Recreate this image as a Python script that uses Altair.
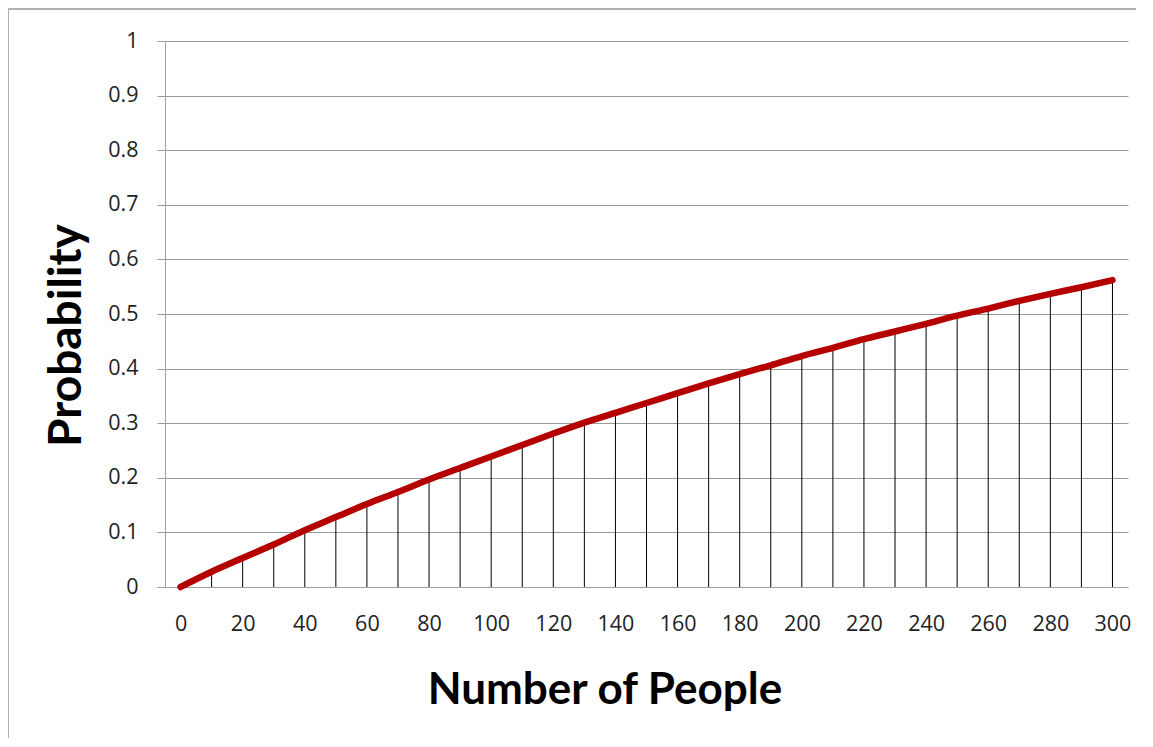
import altair as alt
import pandas as pd

people = [0, 10, 20, 30, 40, 50, 60, 70, 80, 90, 100, 110, 120, 130, 140, 150,
          160, 170, 180, 190, 200, 210, 220, 230, 240, 250, 260, 270, 280, 290, 300]
probability = [0.0, 0.028, 0.053, 0.078, 0.104, 0.128, 0.152, 0.174, 0.197, 0.218,
               0.239, 0.260, 0.281, 0.301, 0.319, 0.337, 0.355, 0.373, 0.390, 0.406,
               0.423, 0.438, 0.454, 0.468, 0.482, 0.497, 0.510, 0.524, 0.537, 0.549,
               0.562]
x_ticks = list(range(0, 301, 20))
y_ticks = [0, 0.1, 0.2, 0.3, 0.4, 0.5, 0.6, 0.7, 0.8, 0.9, 1.0]

df = pd.DataFrame({"people": people, "prob": probability})

TITLE_FONT = "Lato"
LABEL_FONT = "Open Sans"

x_enc = alt.X(
    "people:Q",
    scale=alt.Scale(domain=[-5, 305], nice=False, zero=False),
    axis=alt.Axis(
        values=x_ticks, title="Number of People", grid=False, ticks=False, tickSize=0,
        domainColor="#a0a0a0", labelFont=LABEL_FONT, labelFontSize=21.5,
        labelColor="#222222", labelBaseline="alphabetic", labelPadding=43,
        labelFlush=False,
        titleFont=TITLE_FONT, titleFontSize=44, titleFontWeight="bold",
        titleColor="#000000", titleX=439.5, titleY=116, titleBaseline="alphabetic",
        titleAlign="center",
    ),
)
y_enc = alt.Y(
    "prob:Q",
    scale=alt.Scale(domain=[0, 1], nice=False),
    axis=alt.Axis(
        values=y_ticks, format=".1~f", title="Probability",
        grid=True, gridColor="#9a9a9a", gridWidth=1,
        ticks=True, tickSize=8, tickColor="#9a9a9a", domainColor="#a0a0a0",
        labelFont=LABEL_FONT, labelFontSize=21.5, labelColor="#222222",
        labelPadding=19,
        titleFont=TITLE_FONT, titleFontSize=46, titleFontWeight="bold",
        titleColor="#000000", titleAngle=-90, titleX=-85, titleY=294,
        titleBaseline="alphabetic", titleAlign="center",
    ),
)

drops = alt.Chart(df).mark_rule(color="#000000", strokeWidth=1).encode(
    x=x_enc, y=y_enc, y2=alt.datum(0)
)
curve = alt.Chart(df).mark_line(
    color="#b50000", strokeWidth=6.5, strokeCap="round", interpolate="monotone"
).encode(x="people:Q", y="prob:Q")

border_left = alt.Chart(df).mark_rule(color="#b0b0b0", strokeWidth=1.5).encode(
    x=alt.value(-157), y=alt.value(-33), y2=alt.value(800)
)
border_top = alt.Chart(df).mark_rule(color="#b0b0b0", strokeWidth=1.5).encode(
    y=alt.value(-32.5), x=alt.value(-157), x2=alt.value(1100)
)

chart = alt.layer(drops, curve, border_left, border_top).properties(
    width=963,
    height=546,
    autosize=alt.AutoSizeParams(type="none"),
    padding={"left": 157, "top": 33, "right": 8, "bottom": 151},
    background="white",
).configure_view(stroke="transparent")

chart.save("out.html", embed_options={"renderer": "svg", "actions": False})
